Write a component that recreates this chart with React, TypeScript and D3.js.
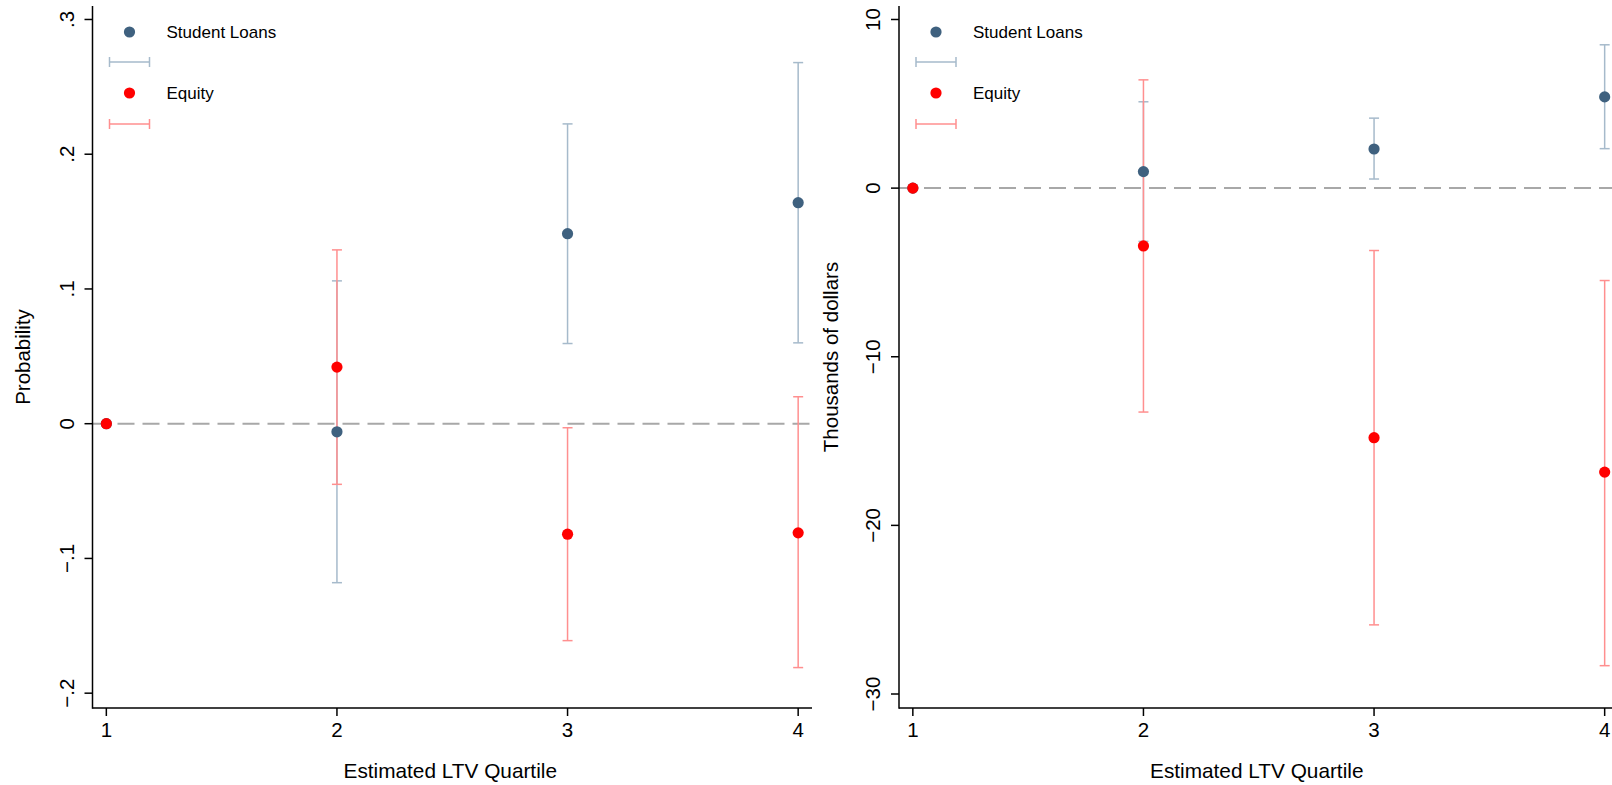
import { scaleLinear } from 'd3';

const W = 1612;
const H = 785;
const FONT = '"Liberation Sans", Arial, Helvetica, sans-serif';

// estimated LTV quartile
const quartiles = [1, 2, 3, 4];

// probability panel
const probLoanEst = [0, -0.006, 0.141, 0.164];
const probLoanLo = [null, -0.118, 0.0595, 0.06];
const probLoanHi = [null, 0.106, 0.2225, 0.268];
const probEqEst = [0, 0.042, -0.082, -0.081];
const probEqLo = [null, -0.045, -0.161, -0.181];
const probEqHi = [null, 0.129, -0.003, 0.02];
const probTicks = [-0.2, -0.1, 0, 0.1, 0.2, 0.3];
const probTickLabels = ['−.2', '−.1', '0', '.1', '.2', '.3'];

// dollar panel (thousands)
const dollarLoanEst = [0, 0.98, 2.32, 5.41];
const dollarLoanLo = [null, -3.16, 0.54, 2.34];
const dollarLoanHi = [null, 5.12, 4.15, 8.5];
const dollarEqEst = [0, -3.43, -14.8, -16.84];
const dollarEqLo = [null, -13.28, -25.9, -28.32];
const dollarEqHi = [null, 6.42, -3.7, -5.48];
const dollarTicks = [-30, -20, -10, 0, 10];
const dollarTickLabels = ['−30', '−20', '−10', '0', '10'];

const LOAN_DOT = '#3f617f';
const LOAN_CI = '#a6bacb';
const EQ_DOT = '#ff0000';
const EQ_CI = '#ff8f8f';

type Series = {
  est: number[];
  lo: (number | null)[];
  hi: (number | null)[];
  dot: string;
  ci: string;
};

type PanelProps = {
  x0: number;
  x1: number;
  yDomain: [number, number];
  ticks: number[];
  tickLabels: string[];
  yTitle: string;
  yTitleX: number;
  tickLabelX: number;
  series: Series[];
};

const TOP = 6;
const BOTTOM = 708;

function Panel({ x0, x1, yDomain, ticks, tickLabels, yTitle, yTitleX, tickLabelX, series }: PanelProps) {
  const x = scaleLinear().domain([0.94, 4.06]).range([x0, x1]);
  const y = scaleLinear().domain(yDomain).range([BOTTOM, TOP]);
  const axisRight = Math.min(x1, W);
  const legX = x0 + 37;

  return (
    <g fontFamily={FONT}>
      {/* zero reference line */}
      <line
        x1={x0}
        x2={axisRight}
        y1={y(0)}
        y2={y(0)}
        stroke="#a8a8a8"
        strokeWidth={2}
        strokeDasharray="17 8"
      />

      {/* confidence intervals */}
      {series.map((s, si) => (
        <g key={'ci' + si}>
          {quartiles.map((q, i) => {
            const lo = s.lo[i];
            const hi = s.hi[i];
            if (lo == null || hi == null) return null;
            const cx = x(q);
            return (
              <g key={i} stroke={s.ci} strokeWidth={1.5}>
                <line x1={cx} x2={cx} y1={y(lo)} y2={y(hi)} />
                <line x1={cx - 5} x2={cx + 5} y1={y(lo)} y2={y(lo)} />
                <line x1={cx - 5} x2={cx + 5} y1={y(hi)} y2={y(hi)} />
              </g>
            );
          })}
        </g>
      ))}

      {/* point estimates */}
      {series.map((s, si) => (
        <g key={'pt' + si}>
          {quartiles.map((q, i) => (
            <circle key={i} cx={x(q)} cy={y(s.est[i])} r={5.6} fill={s.dot} />
          ))}
        </g>
      ))}

      {/* axes */}
      <line x1={x0} x2={x0} y1={TOP} y2={BOTTOM + 0.75} stroke="#000" strokeWidth={1.5} />
      <line x1={x0} x2={axisRight} y1={BOTTOM} y2={BOTTOM} stroke="#000" strokeWidth={1.5} />

      {ticks.map((t, i) => (
        <g key={'yt' + i}>
          <line x1={x0 - 8} x2={x0} y1={y(t)} y2={y(t)} stroke="#000" strokeWidth={1.5} />
          <text
            transform={`translate(${tickLabelX},${y(t)}) rotate(-90)`}
            textAnchor="middle"
            fontSize={20.5}
          >
            {tickLabels[i]}
          </text>
        </g>
      ))}

      {quartiles.map((q) => (
        <g key={'xt' + q}>
          <line x1={x(q)} x2={x(q)} y1={BOTTOM} y2={BOTTOM + 8} stroke="#000" strokeWidth={1.5} />
          <text x={x(q)} y={737} textAnchor="middle" fontSize={20.5}>
            {q}
          </text>
        </g>
      ))}

      <text x={(x0 + x1) / 2 - 2} y={778} textAnchor="middle" fontSize={20.8}>
        Estimated LTV Quartile
      </text>
      <text
        transform={`translate(${yTitleX},${(TOP + BOTTOM) / 2}) rotate(-90)`}
        textAnchor="middle"
        fontSize={20.5}
      >
        {yTitle}
      </text>

      {/* legend */}
      <circle cx={legX} cy={32} r={5.6} fill={LOAN_DOT} />
      <text x={legX + 37} y={38} fontSize={17}>Student Loans</text>
      <g stroke={LOAN_CI} strokeWidth={1.5}>
        <line x1={legX - 20} x2={legX + 20} y1={62} y2={62} />
        <line x1={legX - 20} x2={legX - 20} y1={57} y2={67} />
        <line x1={legX + 20} x2={legX + 20} y1={57} y2={67} />
      </g>
      <circle cx={legX} cy={93} r={5.6} fill={EQ_DOT} />
      <text x={legX + 37} y={99} fontSize={17}>Equity</text>
      <g stroke={EQ_CI} strokeWidth={1.5}>
        <line x1={legX - 20} x2={legX + 20} y1={124} y2={124} />
        <line x1={legX - 20} x2={legX - 20} y1={119} y2={129} />
        <line x1={legX + 20} x2={legX + 20} y1={119} y2={129} />
      </g>
    </g>
  );
}

export default function App() {
  return (
    <svg
      width={W}
      height={H}
      viewBox={`0 0 ${W} ${H}`}
      style={{ position: 'absolute', left: 0, top: 0, background: '#fff' }}
    >
      <rect width={W} height={H} fill="#fff" />
      <Panel
        x0={92.5}
        x1={812}
        yDomain={[-0.211, 0.31]}
        ticks={probTicks}
        tickLabels={probTickLabels}
        yTitle="Probability"
        yTitleX={30}
        tickLabelX={74}
        series={[
          { est: probLoanEst, lo: probLoanLo, hi: probLoanHi, dot: LOAN_DOT, ci: LOAN_CI },
          { est: probEqEst, lo: probEqLo, hi: probEqHi, dot: EQ_DOT, ci: EQ_CI },
        ]}
      />
      <Panel
        x0={899}
        x1={1618.5}
        yDomain={[-30.83, 10.8]}
        ticks={dollarTicks}
        tickLabels={dollarTickLabels}
        yTitle="Thousands of dollars"
        yTitleX={838}
        tickLabelX={880}
        series={[
          { est: dollarLoanEst, lo: dollarLoanLo, hi: dollarLoanHi, dot: LOAN_DOT, ci: LOAN_CI },
          { est: dollarEqEst, lo: dollarEqLo, hi: dollarEqHi, dot: EQ_DOT, ci: EQ_CI },
        ]}
      />
    </svg>
  );
}
